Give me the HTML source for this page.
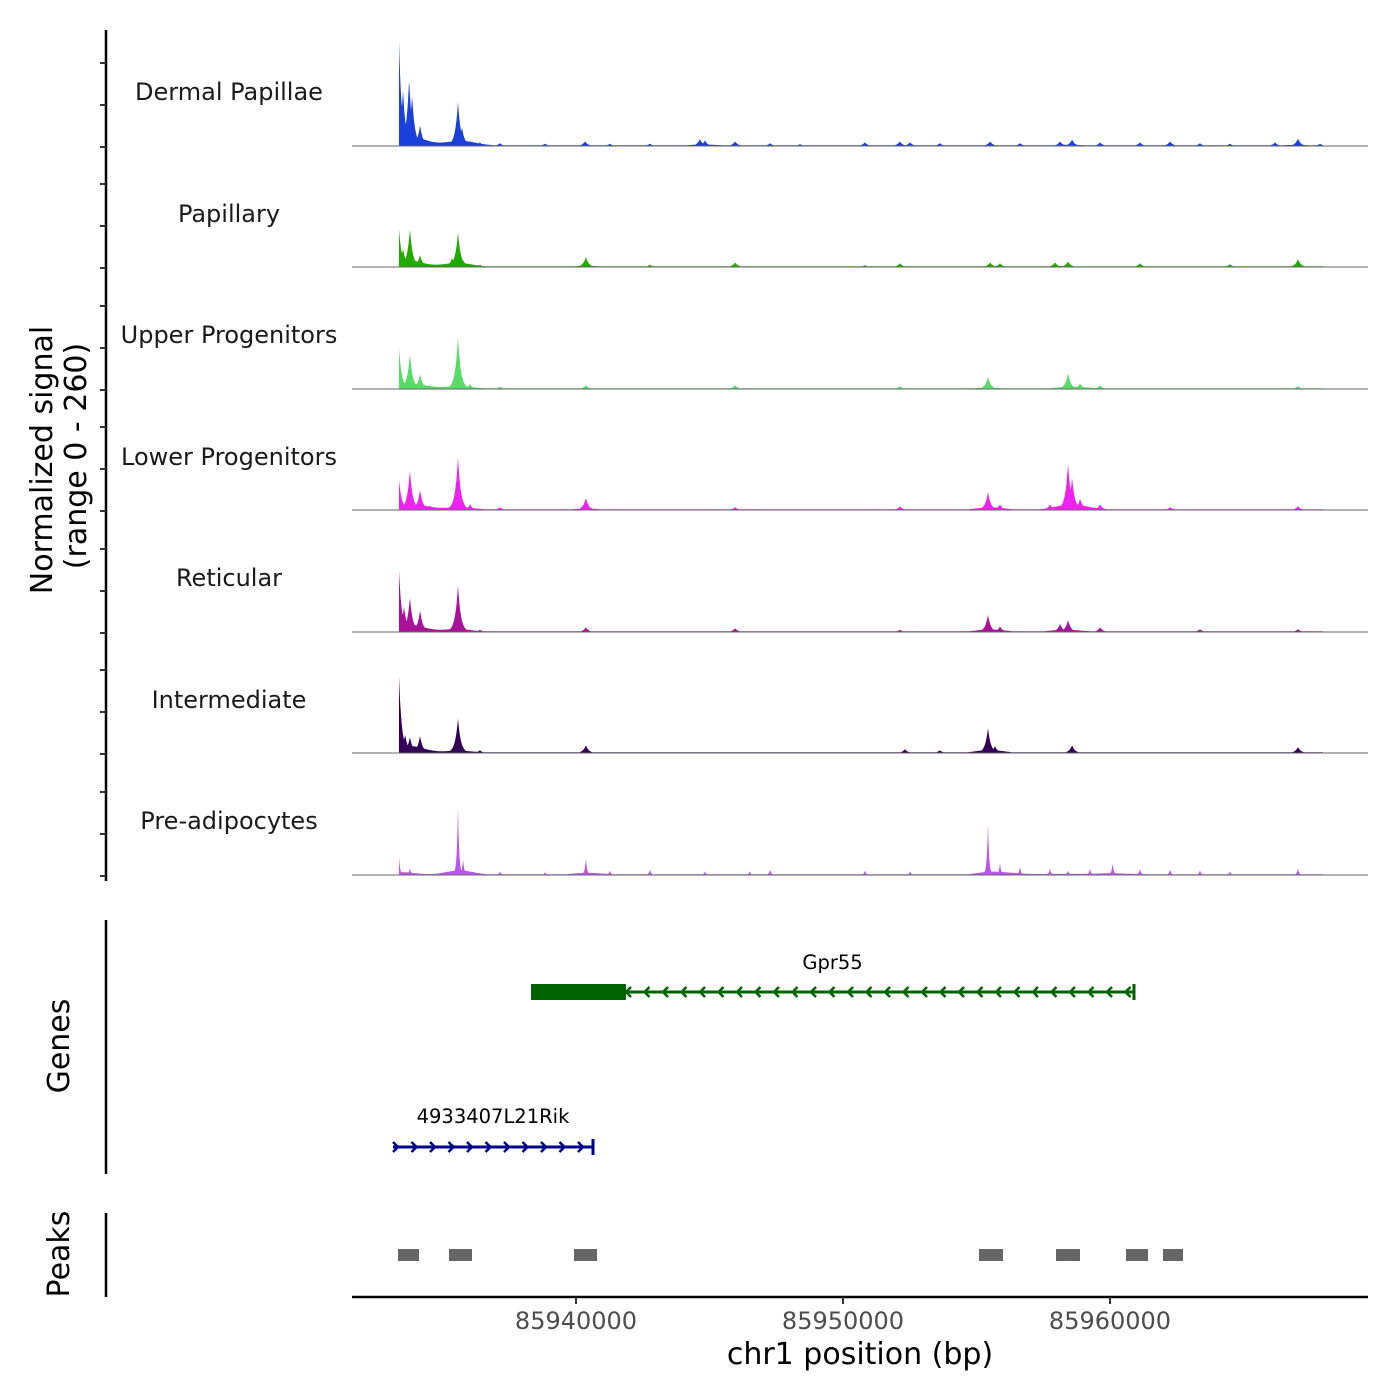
<!DOCTYPE html>
<html><head><meta charset="utf-8"><style>
html,body{margin:0;padding:0;background:#fff;}
svg{display:block;font-family:"DejaVu Sans","Liberation Sans",sans-serif;}
</style></head><body>
<svg id="chart" width="1400" height="1400" viewBox="0 0 1400 1400" xmlns="http://www.w3.org/2000/svg">
<g id="tracks"></g>
<g id="axes"></g>
<g id="genes"></g>
<g id="peaks"></g>
</svg>
<script>
const trackNames = ["Dermal Papillae","Papillary","Upper Progenitors","Lower Progenitors","Reticular","Intermediate","Pre-adipocytes"];
const trackColors = ["#1a3fdb","#22aa00","#55dd66","#ee22ee","#aa1199","#330055","#bb55ee"];
const dermalPos = [85933370,85933520,85933750,85933860,85934160,85935580,85935730,85934530,85934910,85936030,85936400,85937150,85938840,85940340,85941270,85942770,85944640,85944830,85945960,85947270,85948390,85950820,85952130,85952510,85953630,85955510,85956630,85958130,85958580,85959630,85961120,85962250,85963370,85964490,85966180,85967040,85967870];
const dermalVal = [226,120,145,110,45,95,40,8,8,10,8,6,5,10,5,5,15,12,10,6,4,8,10,8,6,10,6,10,14,8,8,10,6,5,8,16,5];
const papPos = [85933370,85933520,85933780,85934160,85935360,85935580,85935770,85936400,85940370,85945960,85952130,85955510,85955880,85957940,85958430,85961120,85964490,85967040,85942770,85950820];
const papVal = [82,40,82,26,20,75,15,5,22,10,8,10,8,10,12,8,6,17,5,4];
const upPos = [85933370,85933780,85934160,85935580,85936030,85940370,85945960,85955430,85958430,85958880,85959630,85967040,85934530,85937150,85952130];
const upVal = [88,75,32,112,10,8,8,26,34,12,8,6,8,5,6];
const lowPos = [85933370,85933780,85934160,85935580,85936030,85940370,85952130,85955430,85955880,85957750,85958430,85958580,85958880,85959630,85967040,85934530,85937150,85945960,85962250];
const lowVal = [65,86,43,114,12,26,8,39,12,12,101,70,25,12,8,10,6,6,6];
const retPos = [85933370,85933560,85933780,85934160,85935580,85940370,85945960,85955430,85955880,85958130,85958430,85959630,85963370,85967040,85935360,85936400,85952130];
const retVal = [133,55,75,47,101,10,8,37,12,18,26,10,6,6,12,5,5];
const intPos = [85933370,85933600,85933780,85934160,85935580,85940370,85952320,85955430,85955690,85958580,85967040,85936400,85953630];
const intVal = [166,40,35,37,75,17,8,54,15,17,13,6,6];
const prePos = [85933370,85933780,85935360,85935580,85935770,85940370,85955430,85955880,85956630,85958430,85959250,85937150,85941270,85942770,85944830,85947270,85950820,85952510,85957750,85960100,85961120,85962250,85963370,85964490,85967040,85938840,85946500];
const preVal = [39,15,10,148,35,37,112,25,18,10,14,8,10,12,8,12,10,8,14,26,14,12,10,8,14,6,8];
const trackPos = [dermalPos,papPos,upPos,lowPos,retPos,intPos,prePos];
const trackVal = [dermalVal,papVal,upVal,lowVal,retVal,intVal,preVal];
const dataRange = [85933370, 85967980];
const xTicks = [85940000, 85950000, 85960000];
const geneNames = ["Gpr55","4933407L21Rik"];
const geneStart = [85938315, 85933146];
const geneEnd = [85960899, 85940637];
const geneThickStart = [85938315, null];
const geneThickEnd = [85941873, null];
const geneStrand = ["-","+"];
const geneColors = ["#006400","#00008b"];
const peakStart = [85933333,85935243,85939925,85955094,85957978,85960599,85961985];
const peakEnd = [85934120,85936105,85940787,85955993,85958876,85961423,85962734];

const NS="http://www.w3.org/2000/svg";
function mk(tag, attrs, parent){const e=document.createElementNS(NS,tag);for(const k in attrs)e.setAttribute(k,attrs[k]);parent.appendChild(e);return e;}
const xs = bp => 576 + (bp-85940000)/10000*267;
const yScale = v => v*121/260;
const baselines = [146,267,389,510,632,753,875];
const labelY = [92,214,335,457,578,700,821];

const tg=document.getElementById('tracks');
for(let t=0;t<7;t++){
  const b=baselines[t], pos=trackPos[t], val=trackVal[t];
  const w = t===6?70:170;
  let d="M"+xs(dataRange[0])+","+b;
  for(let px=Math.ceil(xs(dataRange[0])); px<=xs(dataRange[1]); px+=0.5){
    const bp=85940000+(px-576)/267*10000;
    let v=1.5, s=0;
    for(let i=0;i<pos.length;i++){
      const dd=Math.abs(bp-pos[i])/w;
      const sharp=val[i]*Math.exp(-dd*1.6);
      v=Math.max(v,sharp);
      const d2=(bp-pos[i])/700; s+=Math.min(val[i],40)*0.12*Math.exp(-d2*d2);
    }
    v=Math.max(v,s);
    d+=" L"+px+","+(b-yScale(v)).toFixed(1);
  }
  d+=" L"+xs(dataRange[1])+","+b+" Z";
  const p=mk('path',{d:d,fill:trackColors[t]},tg);
  
  
  const l=mk('line',{x1:352,x2:1368,y1:b,y2:b,stroke:"#666","stroke-width":1},tg);
  
  
  const tx=mk('text',{x:229,y:labelY[t]+8,"text-anchor":"middle","font-size":24,fill:"#1a1a1a"},tg);
  tx.textContent=trackNames[t];
  
  
}

const ag=document.getElementById('axes');
mk('line',{x1:106,x2:106,y1:30,y2:881,stroke:"#000","stroke-width":2.5},ag);
for(const b of baselines){for(const o of [0,42,84]){mk('line',{x1:100,x2:106,y1:b-o+1,y2:b-o+1,stroke:"#333","stroke-width":2},ag);}}
let yt=mk('text',{x:52,y:460,"text-anchor":"middle","font-size":30,transform:"rotate(-90 52 460)"},ag);yt.textContent="Normalized signal";


let yt2=mk('text',{x:86,y:456,"text-anchor":"middle","font-size":30,transform:"rotate(-90 86 456)"},ag);yt2.textContent="(range 0 - 260)";


mk('line',{x1:106,x2:106,y1:920,y2:1174,stroke:"#000","stroke-width":2.5},ag);
let gt=mk('text',{x:69,y:1046,"text-anchor":"middle","font-size":30,transform:"rotate(-90 69 1046)"},ag);gt.textContent="Genes";


mk('line',{x1:106,x2:106,y1:1213,y2:1297,stroke:"#000","stroke-width":2.5},ag);
let pt=mk('text',{x:69,y:1254,"text-anchor":"middle","font-size":30,transform:"rotate(-90 69 1254)"},ag);pt.textContent="Peaks";


mk('line',{x1:352,x2:1368,y1:1297,y2:1297,stroke:"#000","stroke-width":2.5},ag);
for(const tk of xTicks){
  mk('line',{x1:xs(tk),x2:xs(tk),y1:1297,y2:1304,stroke:"#333","stroke-width":2},ag);
  const t=mk('text',{x:xs(tk),y:1329,"text-anchor":"middle","font-size":24,fill:"#4d4d4d"},ag);t.textContent=tk;
  
  
}
let xt=mk('text',{x:860,y:1364,"text-anchor":"middle","font-size":30},ag);xt.textContent="chr1 position (bp)";



const gg=document.getElementById('genes');
const geneY=[992,1147], geneLabelY=[969,1123];
for(let g=0;g<geneNames.length;g++){
  const c=geneColors[g], y=geneY[g], x1=xs(geneStart[g]), x2=xs(geneEnd[g]);
  const grp=mk('g',{},gg);
  
  
  mk('line',{x1:x1,x2:x2,y1:y,y2:y,stroke:c,"stroke-width":3},grp);
  mk('line',{x1:x2,x2:x2,y1:y-8,y2:y+8,stroke:c,"stroke-width":3},grp);
  if(geneThickStart[g]!==null){mk('rect',{x:xs(geneThickStart[g]),y:y-8,width:xs(geneThickEnd[g])-xs(geneThickStart[g]),height:16,fill:c},grp);}
  const from = geneThickEnd[g]!==null?xs(geneThickEnd[g]):x1;
  for(let ax=from; ax<x2-6; ax+=18.5){
    const d = geneStrand[g]==="-" ? `M${ax+5},${y-5} L${ax},${y} L${ax+5},${y+5}` : `M${ax},${y-5} L${ax+5},${y} L${ax},${y+5}`;
    mk('path',{d:d,stroke:c,"stroke-width":2.5,fill:"none"},grp);
  }
  const lt=mk('text',{x:(x1+x2)/2,y:geneLabelY[g],"text-anchor":"middle","font-size":19.5,fill:"#000"},grp);
  lt.textContent=geneNames[g];
}
const pg=document.getElementById('peaks');
for(let i=0;i<peakStart.length;i++){
  const r=mk('rect',{x:xs(peakStart[i]),y:1249,width:xs(peakEnd[i])-xs(peakStart[i]),height:12,fill:"#666"},pg);
  
  
}
</script>
</body></html>
